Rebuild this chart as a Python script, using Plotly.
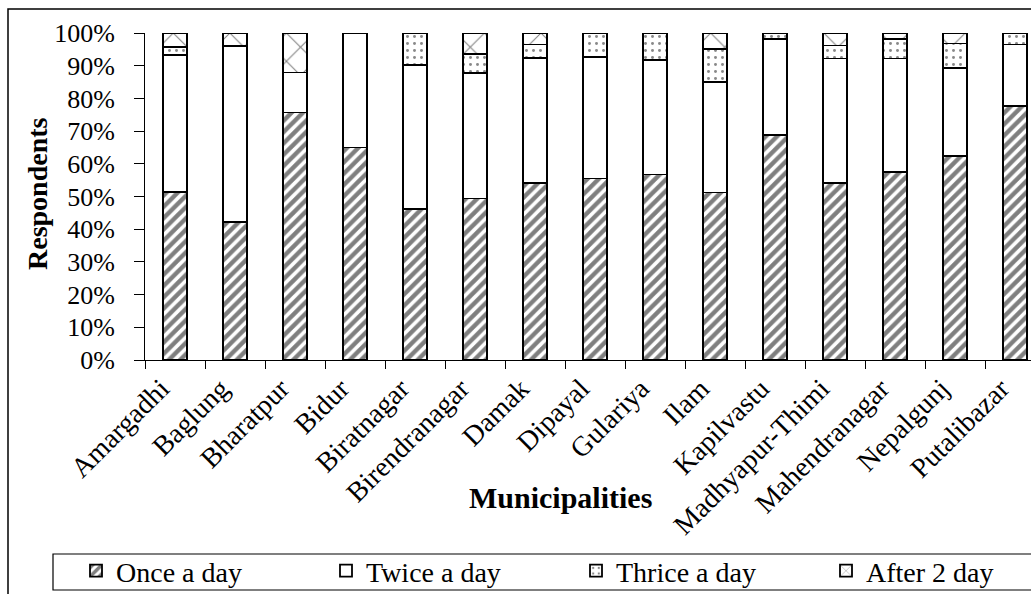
import plotly.graph_objects as go

# Share of respondents (%) by frequency, per municipality
municipalities = [
    "Amargadhi", "Baglung", "Bharatpur", "Bidur", "Biratnagar", "Birendranagar",
    "Damak", "Dipayal", "Gulariya", "Ilam", "Kapilvastu", "Madhyapur-Thimi",
    "Mahendranagar", "Nepalgunj", "Putalibazar",
]
once_a_day = [51.4, 42.1, 75.7, 65.0, 46.3, 49.4, 54.1, 55.5, 56.7, 51.2, 68.8, 54.1, 57.5, 62.5, 77.6]
twice_a_day = [41.8, 53.9, 12.2, 35.0, 44.0, 38.4, 38.2, 37.2, 35.0, 33.7, 29.3, 38.1, 34.7, 26.7, 18.9]
thrice_a_day = [2.4, 0.0, 0.0, 0.0, 9.7, 5.9, 4.2, 7.3, 8.3, 10.2, 1.9, 4.0, 5.9, 7.6, 3.5]
after_2_day = [4.4, 4.0, 12.1, 0.0, 0.0, 6.3, 3.5, 0.0, 0.0, 4.9, 0.0, 3.8, 1.9, 3.2, 0.0]

y_ticks = list(range(0, 101, 10))
y_tick_labels = [f"{v}%" for v in y_ticks]

W, H = 1031, 594
L, T, B = 145, 33, 234
plot_w = W - L
plot_h = H - T - B
FONT = "Liberation Serif, Times New Roman, serif"


def px_x(p):
    return (p - L) / plot_w


def px_y(p):
    return (H - B - p) / plot_h


series = [
    ("Once a day", once_a_day, dict(shape="/", fgcolor="black", bgcolor="white", size=8, solidity=0.55)),
    ("Twice a day", twice_a_day, dict(shape="", bgcolor="white")),
    ("Thrice a day", thrice_a_day, dict(shape=".", fgcolor="#111", bgcolor="white", size=7, solidity=0.14)),
    ("After 2 day", after_2_day, dict(shape="x", fgcolor="black", bgcolor="white", size=20, solidity=0.1)),
]

fig = go.Figure()
for name, vals, pat in series:
    fig.add_trace(go.Bar(
        name=name,
        x=municipalities,
        y=vals,
        marker=dict(color="white", line=dict(color="black", width=1.8), pattern=pat),
    ))

# category slots are 60 px wide; the last slot runs past the right edge
x_end = -0.5 + plot_w / 60.0

fig.update_layout(
    width=W, height=H,
    barmode="stack",
    bargap=0.6,
    paper_bgcolor="white",
    plot_bgcolor="white",
    margin=dict(l=L, r=0, t=T, b=B, autoexpand=False),
    font=dict(family=FONT, color="black", size=24),
    xaxis=dict(
        range=[-0.5, x_end],
        showline=True, linecolor="black", linewidth=1,
        ticks="outside", tickson="boundaries", ticklen=8, tickcolor="black",
        tickangle=-45,
        ticklabelshift=-14,
        tickfont=dict(family=FONT, size=28, color="black"),
        showgrid=False, zeroline=False,
    ),
    yaxis=dict(
        range=[0, 100],
        tickmode="array",
        tickvals=y_ticks,
        ticktext=y_tick_labels,
        showline=True, linecolor="black", linewidth=1,
        ticks="outside", ticklen=10, tickcolor="black",
        ticklabelstandoff=14,
        tickfont=dict(family=FONT, size=26, color="black"),
        showgrid=False, zeroline=False,
    ),
    showlegend=True,
    legend=dict(
        orientation="h",
        x=px_x(76), xanchor="left",
        y=px_y(571), yanchor="middle",
        borderwidth=0,
        bgcolor="rgba(0,0,0,0)",
        entrywidth=205,
        font=dict(family=FONT, size=28, color="black"),
        traceorder="normal",
    ),
    annotations=[
        dict(text="<b>Respondents</b>", x=px_x(37), y=px_y(194), xref="paper", yref="paper",
             xanchor="center", yanchor="middle",
             textangle=-90, showarrow=False, font=dict(family=FONT, size=28, color="black")),
        dict(text="<b>Municipalities</b>", x=px_x(560), y=px_y(497), xref="paper", yref="paper",
             xanchor="center", yanchor="middle",
             showarrow=False, font=dict(family=FONT, size=30, color="black")),
    ],
    shapes=[
        # outer chart frame (left and top edges visible)
        dict(type="rect", xref="paper", yref="paper",
             x0=px_x(8), x1=px_x(W + 20), y0=px_y(H + 20), y1=px_y(9),
             line=dict(color="black", width=1.5), fillcolor="rgba(0,0,0,0)", layer="below"),
        # legend frame
        dict(type="rect", xref="paper", yref="paper",
             x0=px_x(53), x1=px_x(W + 20), y0=px_y(590), y1=px_y(554),
             line=dict(color="black", width=1.2), fillcolor="rgba(0,0,0,0)", layer="below"),
    ],
)

fig.write_html("out.html")
